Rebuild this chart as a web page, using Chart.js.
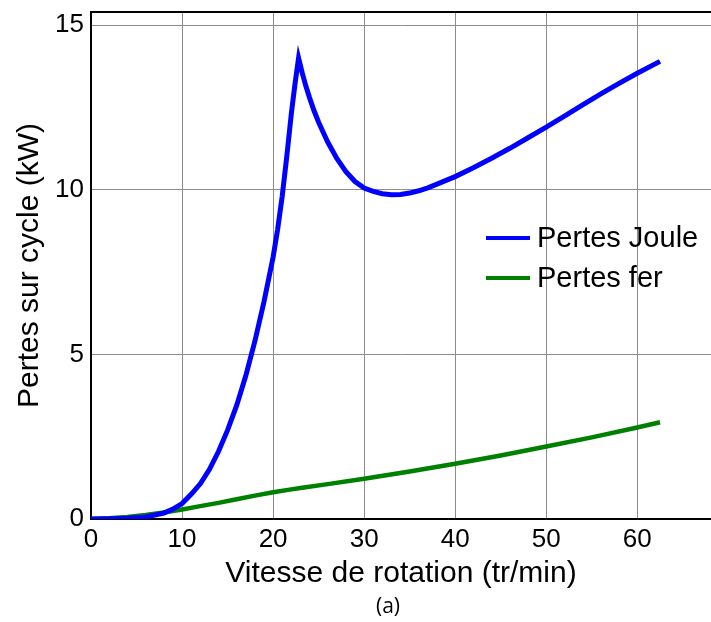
<!DOCTYPE html>
<html>
<head>
<meta charset="utf-8">
<script src="https://cdn.jsdelivr.net/npm/chart.js@4/dist/chart.umd.min.js"></script>
<style>
  html, body { margin: 0; padding: 0; background: #fff; }
  #wrap { width: 711px; height: 622px; }
</style>
</head>
<body>
<div id="wrap"><canvas id="chart"></canvas></div>
<script>
// courbe des pertes Joule (vitesse en tr/min, pertes en kW)
const jouleSpeed = [0, 2, 4, 6, 8, 9, 10, 11, 12, 13, 14, 15, 16, 17, 18, 19, 20, 20.5, 21, 21.5, 22, 22.4, 22.8,
  23.2, 23.6, 24, 24.5, 25, 26, 27, 28, 29, 30, 31, 32, 33, 34, 35, 36, 37, 38, 40, 42, 44, 46, 48, 50, 52, 54, 56, 58, 60, 62.5];
const jouleLoss = [0, 0.005, 0.02, 0.06, 0.18, 0.3, 0.47, 0.75, 1.07, 1.5, 2.05, 2.7, 3.45, 4.35, 5.4, 6.6, 7.95, 8.8, 9.8, 11.0, 12.3, 13.2, 14.0,
  13.55, 13.15, 12.8, 12.4, 12.05, 11.45, 10.95, 10.55, 10.25, 10.05, 9.95, 9.88, 9.85, 9.86, 9.9, 9.97, 10.06, 10.17, 10.4, 10.67, 10.96, 11.26, 11.58, 11.9, 12.24, 12.58, 12.91, 13.23, 13.54, 13.9];

// courbe des pertes fer
const ferSpeed = [0, 2, 4, 6, 8, 10, 12, 14, 16, 18, 20, 22, 23, 26, 30, 35, 40, 45, 50, 55, 60, 62.5];
const ferLoss = [0, 0.02, 0.06, 0.12, 0.2, 0.29, 0.39, 0.49, 0.6, 0.71, 0.81, 0.9, 0.94, 1.06, 1.22, 1.44, 1.68, 1.93, 2.2, 2.48, 2.78, 2.94];

const seriesLabels = ['Pertes Joule', 'Pertes fer'];
const xTicks = [0, 10, 20, 30, 40, 50, 60];
const yTicks = [0, 5, 10, 15];

const toPoints = (xs, ys) => xs.map((x, i) => ({ x: x, y: ys[i] }));

// legende dans la zone du graphe, cadre du haut et "(a)"
const insideLegend = {
    id: 'insideLegend',
    afterDraw(chart) {
        const ctx = chart.ctx;
        const area = chart.chartArea;
        ctx.save();
        ctx.strokeStyle = '#000';
        ctx.lineWidth = 2;
        ctx.beginPath();
        ctx.moveTo(area.left, area.top);
        ctx.lineTo(area.right, area.top);
        ctx.stroke();

        ctx.font = '29px "Liberation Sans", Arial, sans-serif';
        ctx.textBaseline = 'middle';
        ctx.fillStyle = '#000';
        chart.data.datasets.forEach((ds, i) => {
            const y = 238 + i * 40;
            ctx.strokeStyle = ds.borderColor;
            ctx.lineWidth = 4;
            ctx.beginPath();
            ctx.moveTo(486, y);
            ctx.lineTo(530, y);
            ctx.stroke();
            ctx.fillText(ds.label, 537, y + 1);
        });

        ctx.font = '21px "Open Sans", sans-serif';
        ctx.textAlign = 'center';
        ctx.fillText('(a)', 388, 607);
        ctx.restore();
    }
};

const tickFont = { family: '"Liberation Sans", Arial, sans-serif', size: 26 };
const titleFont = { family: '"Liberation Sans", Arial, sans-serif', size: 30 };

new Chart(document.getElementById('chart'), {
    type: 'line',
    data: {
        datasets: [
            { label: seriesLabels[0], data: toPoints(jouleSpeed, jouleLoss), borderColor: '#0000ff', borderWidth: 5, pointRadius: 0, tension: 0 },
            { label: seriesLabels[1], data: toPoints(ferSpeed, ferLoss), borderColor: '#008000', borderWidth: 4.5, pointRadius: 0, tension: 0 }
        ]
    },
    options: {
        responsive: true,
        maintainAspectRatio: false,
        animation: false,
        layout: { padding: { top: 12, right: 0, left: 0, bottom: 0 } },
        plugins: {
            legend: { display: false },
            tooltip: { enabled: false }
        },
        scales: {
            x: {
                type: 'linear',
                min: 0,
                max: 68.1,
                afterFit: s => { s.height = 103; s.paddingLeft = 0; s.paddingRight = 0; },
                afterBuildTicks: s => { s.ticks = xTicks.map(v => ({ value: v })); },
                ticks: { font: tickFont, color: '#000', padding: 5, maxRotation: 0 },
                grid: { color: '#8c8c8c', lineWidth: 1, drawTicks: false },
                border: { color: '#000', width: 2 },
                title: { display: true, text: 'Vitesse de rotation (tr/min)', color: '#000', font: titleFont, padding: { top: 0, bottom: 30 } }
            },
            y: {
                min: 0,
                max: 15.4,
                afterFit: s => { s.width = 91; s.paddingTop = 0; s.paddingBottom = 0; },
                afterBuildTicks: s => { s.ticks = yTicks.map(v => ({ value: v })); },
                ticks: { font: tickFont, color: '#000', padding: 7 },
                grid: { color: '#8c8c8c', lineWidth: 1, drawTicks: false },
                border: { color: '#000', width: 2 },
                title: { display: true, text: 'Pertes sur cycle (kW)', color: '#000', font: titleFont, padding: { top: 12, bottom: 0 } }
            }
        }
    },
    plugins: [insideLegend]
});
</script>
</body>
</html>
